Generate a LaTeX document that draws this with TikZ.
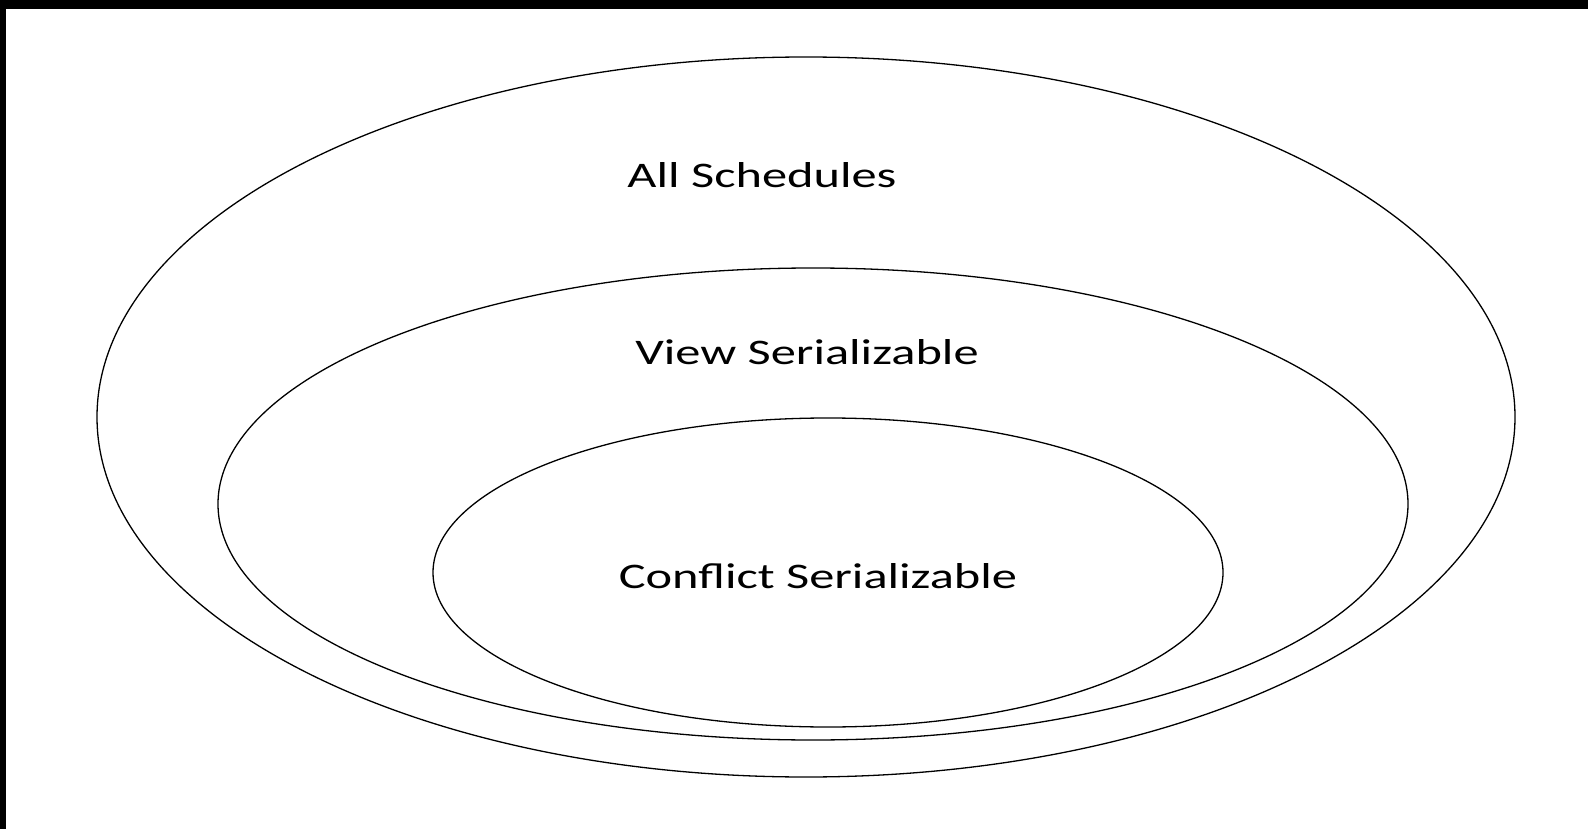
\documentclass[tikz,border=0pt]{standalone}
\usepackage{fontspec}
\setmainfont{Carlito}
\begin{document}
\begin{tikzpicture}[x=1pt,y=-1pt,
  setline/.style={draw=black,line width=1.3pt},
  setlabel/.style={font=\fontsize{36}{40}\selectfont,text=black,inner sep=0pt,anchor=base,xscale=1.4}]
\useasboundingbox (0,0) rectangle (1588,829);
\fill[white] (0,0) rectangle (1588,829);
\fill[black] (0,0) rectangle (1588,9);
\fill[black] (0,0) rectangle (6,829);
\draw[setline] (806,417) ellipse [x radius=709, y radius=360];
\draw[setline] (813,504) ellipse [x radius=595, y radius=236];
\draw[setline] (828,572.5) ellipse [x radius=395, y radius=154.5];
\node[setlabel] (all) at (762,188) {All Schedules};
\node[setlabel] (view) at (807,364) {View Serializable};
\node[setlabel] (conf) at (818,588) {Conflict Serializable};
\end{tikzpicture}
\end{document}
